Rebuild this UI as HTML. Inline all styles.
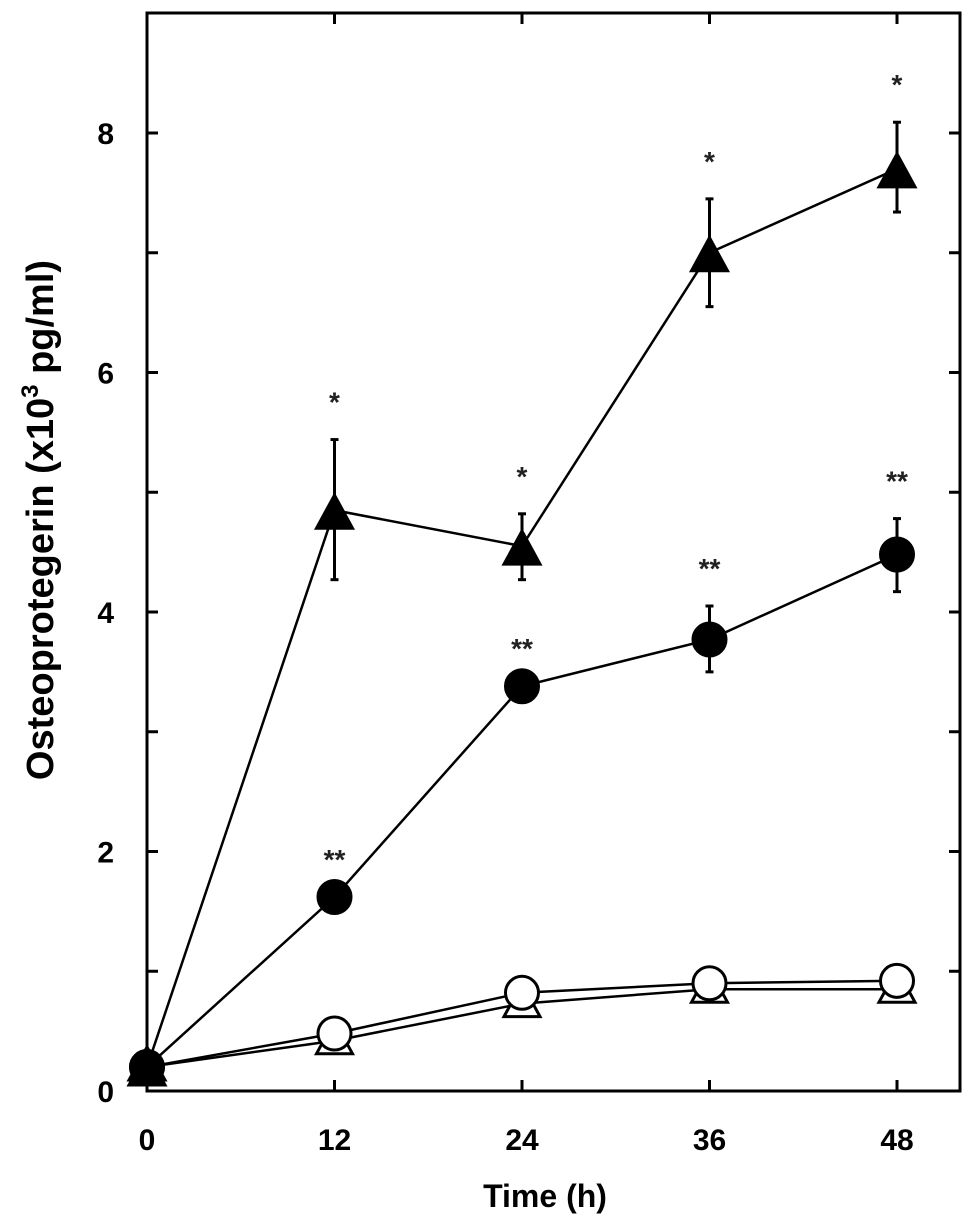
<!DOCTYPE html>
<html><head><meta charset="utf-8"><style>
html,body{margin:0;padding:0;background:#fff;}
svg{display:block;font-family:"Liberation Sans",Arial,sans-serif;font-weight:bold;}
</style></head><body>
<svg id="chart" width="974" height="1227" viewBox="0 0 974 1227">
<rect x="147" y="13" width="813" height="1078" fill="none" stroke="#000" stroke-width="3"/>
<g id="ticks"></g>
<g id="series"></g>
<text x="53" y="520" font-size="38" text-anchor="middle" transform="rotate(-90 53 520)">Osteoprotegerin (x10<tspan font-size="24" dy="-15">3</tspan><tspan dy="15"> pg/ml)</tspan></text>
<text x="545" y="1207" font-size="32" text-anchor="middle">Time (h)</text>
</svg>
<script>
const times=[0,12,24,36,48];
const yTicks=[0,2,4,6,8];
const xTicks=[0,12,24,36,48];
const filledTri=[0.2,4.85,4.55,7.0,7.7];
const filledTriHi=[0.2,5.44,4.82,7.45,8.09];
const filledTriLo=[0.2,4.27,4.27,6.55,7.34];
const filledCirc=[0.2,1.62,3.38,3.77,4.48];
const filledCircHi=[0.2,1.62,3.38,4.05,4.78];
const filledCircLo=[0.2,1.62,3.38,3.5,4.17];
const openCirc=[0.2,0.48,0.82,0.9,0.92];
const openTri=[0.2,0.42,0.73,0.85,0.85];
const triStars=["","*","*","*","*"];
const circStars=["","**","**","**","**"];
const NS="http://www.w3.org/2000/svg";
const X=t=>147+(t-0)*(897-147)/48;
const Y=v=>1091-v*119.75;
function mk(tag,attrs,parent){const e=document.createElementNS(NS,tag);for(const k in attrs)e.setAttribute(k,attrs[k]);parent.appendChild(e);return e;}
const tk=document.getElementById('ticks'), sr=document.getElementById('series');
for(let v=1;v<=8;v++){
 const l=mk('line',{x1:147,x2:158,y1:Y(v),y2:Y(v),stroke:'#000','stroke-width':3},tk);
 
 
 const r=mk('line',{x1:949,x2:960,y1:Y(v),y2:Y(v),stroke:'#000','stroke-width':3},tk);
 
 
}
yTicks.forEach(v=>{const t=mk('text',{x:114,y:Y(v)+11,'font-size':30,'text-anchor':'end'},tk);t.textContent=v;
 
 });
xTicks.forEach(v=>{
 if(v>0){const l=mk('line',{x1:X(v),x2:X(v),y1:1080,y2:1091,stroke:'#000','stroke-width':3},tk);
 
 
 const u=mk('line',{x1:X(v),x2:X(v),y1:13,y2:24,stroke:'#000','stroke-width':3},tk);
 
 }
 const t=mk('text',{x:X(v),y:1150,'font-size':30,'text-anchor':'middle'},tk);t.textContent=v;
 
 });
function line(vals,name,dy){
 const p=mk('polyline',{points:times.map((t,i)=>X(t)+','+(Y(vals[i])+(dy||0))).join(' '),fill:'none',stroke:'#000','stroke-width':2.5},sr);
 
 
}
function errs(hi,lo,name){times.forEach((t,i)=>{if(hi[i]===lo[i])return;const g=mk('g',{stroke:'#000','stroke-width':3},sr);
 
 
 mk('line',{x1:X(t),x2:X(t),y1:Y(hi[i]),y2:Y(lo[i])},g);
 mk('line',{x1:X(t)-4,x2:X(t)+4,y1:Y(hi[i]),y2:Y(hi[i])},g);
 mk('line',{x1:X(t)-4,x2:X(t)+4,y1:Y(lo[i]),y2:Y(lo[i])},g);});}
function tri(vals,fill,name,dy){times.forEach((t,i)=>{const x=X(t),y=Y(vals[i])+dy;
 const p=mk('polygon',{points:`${x},${y-20} ${x-18},${y+13} ${x+18},${y+13}`,fill:fill,stroke:'#000','stroke-width':3},sr);
 
 });}
function circ(vals,fill,name){times.forEach((t,i)=>{const c=mk('circle',{cx:X(t),cy:Y(vals[i]),r:16.5,fill:fill,stroke:'#000','stroke-width':3},sr);
 
 });}
function stars(hi,labels,name){times.forEach((t,i)=>{if(!labels[i])return;const s=mk('text',{x:X(t),y:Y(hi[i])-28,'font-size':28,'text-anchor':'middle',fill:'#222'},sr);s.textContent=labels[i];
 
 });}
line(openTri,'open-triangle-line',0);
line(openCirc,'open-circle-line',0);
tri(openTri,'#fff','open-triangle-marker',0);
circ(openCirc,'#fff','open-circle-marker');
line(filledCirc,'filled-circle-line',0);
line(filledTri,'filled-triangle-line',0);
errs(filledTriHi,filledTriLo,'filled-triangle-error');
errs(filledCircHi,filledCircLo,'filled-circle-error');
tri(filledTri,'#000','filled-triangle-marker',5);
circ(filledCirc,'#000','filled-circle-marker');
stars(filledTriHi,triStars,'triangle-significance');
stars(filledCircHi,circStars,'circle-significance');
</script>
</body></html>
